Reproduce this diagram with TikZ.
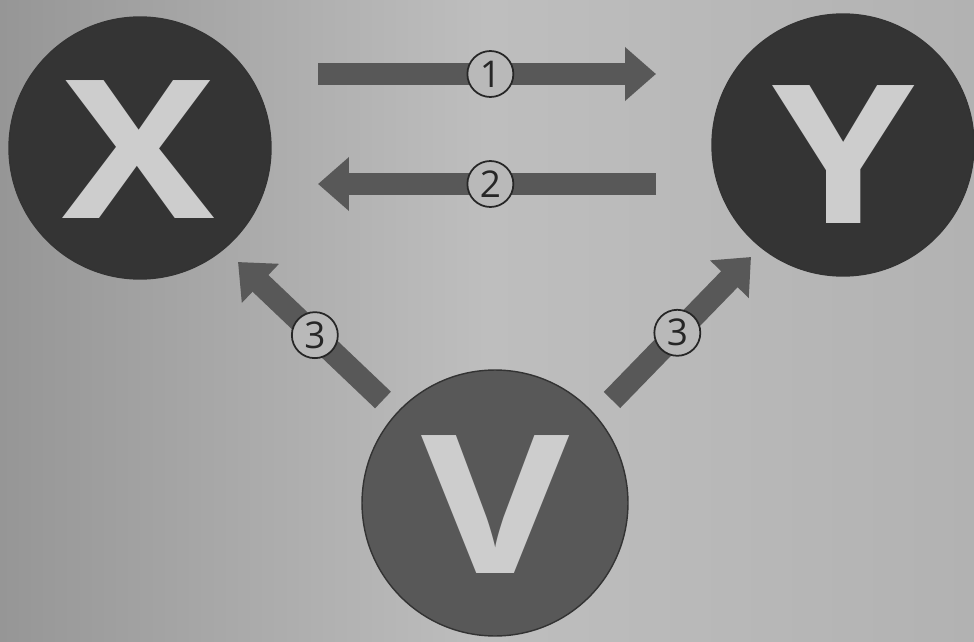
\documentclass[tikz,border=0pt]{standalone}
\usepackage{fontspec}
\setmainfont{Open Sans}
\usetikzlibrary{arrows.meta}
\definecolor{bgmid}{RGB}{190,190,190}
\definecolor{bgleft}{RGB}{150,150,150}
\definecolor{bgright}{RGB}{178,178,178}
\definecolor{darkfill}{RGB}{52,52,52}
\definecolor{vfill}{RGB}{88,88,88}
\definecolor{arrowfill}{RGB}{88,88,88}
\definecolor{letter}{RGB}{205,205,205}
\definecolor{numfill}{RGB}{185,185,185}
\tikzset{
  bigcircle/.style={circle, draw=black!80, line width=0.8pt, minimum size=5.24cm, inner sep=0pt},
  bigletter/.style={text=letter, xscale=1.18, font=\fontsize{110}{110}\selectfont\bfseries},
  bigarrow/.style={draw=arrowfill, line width=0.46cm, -{Triangle[width=1.04cm, length=0.62cm]}},
  numlabel/.style={circle, draw=black!85, line width=1pt, fill=numfill, minimum size=0.92cm, inner sep=0pt, font=\fontsize{21}{21}\selectfont, text=black!85},
}
\begin{document}
\begin{tikzpicture}[x=0.02cm, y=-0.02cm]
\useasboundingbox (0,0) rectangle (974,642);
\shade[left color=bgleft, right color=bgright, middle color=bgmid] (0,0) rectangle (974,642);
\begin{scope}
\clip (0,0) rectangle (974,642);
\node[bigcircle, fill=darkfill] (X) at (140,148) {};
\node[bigcircle, fill=darkfill] (Y) at (843,145) {};
\node[bigcircle, fill=vfill, minimum size=5.32cm] (V) at (495,503) {};
\node[bigletter] (Xt) at (139,150) {X};
\node[bigletter] (Yt) at (844,155) {Y};
\node[bigletter] (Vt) at (496,505) {V};
\end{scope}
\coordinate (a1s) at (318,74);
\coordinate (a1e) at (656,74);
\coordinate (a2s) at (656,184);
\coordinate (a2e) at (318,184);
\coordinate (a3s) at (383,400);
\coordinate (a3e) at (238,262);
\coordinate (a4s) at (612,400);
\coordinate (a4e) at (751,257);
\draw[bigarrow] (a1s) -- (a1e) node[numlabel, pos=0.51] (n1) {1};
\draw[bigarrow] (a2s) -- (a2e) node[numlabel, pos=0.49] (n2) {2};
\draw[bigarrow] (a3s) -- (a3e) node[numlabel, pos=0.47] (n3) {3};
\draw[bigarrow] (a4s) -- (a4e) node[numlabel, pos=0.47] (n4) {3};
\end{tikzpicture}
\end{document}
